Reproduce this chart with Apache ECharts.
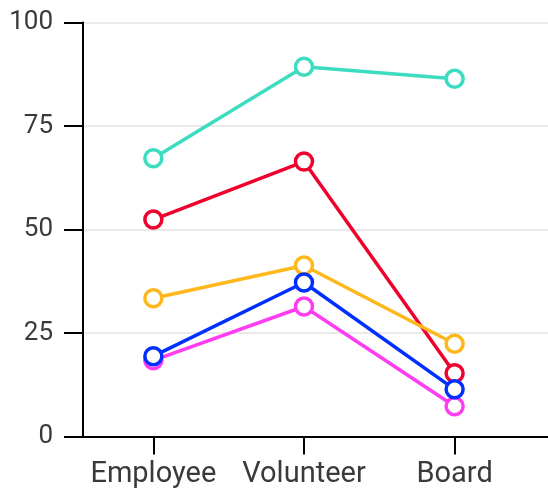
<!DOCTYPE html>
<html><head><meta charset="utf-8">
<script src="https://cdn.jsdelivr.net/npm/echarts@6/dist/echarts.min.js"></script>
<style>html,body{margin:0;padding:0;background:#fff}#c{width:548px;height:491px}</style>
</head><body><div id="c"></div>
<script>
const categories = ['Employee', 'Volunteer', 'Board'];
const yTicks = [0, 25, 50, 75, 100];
const teal = [67.2, 89.3, 86.4];
const red = [52.4, 66.4, 15.3];
const orange = [33.4, 41.3, 22.4];
const magenta = [18.4, 31.4, 7.3];
const blue = [19.4, 37.2, 11.4];

const seriesDefs = [
  {name: 'teal', data: teal, color: '#3cdcc1'},
  {name: 'red', data: red, color: '#f0002d'},
  {name: 'orange', data: orange, color: '#ffb81c'},
  {name: 'magenta', data: magenta, color: '#ff3cf2'},
  {name: 'blue', data: blue, color: '#0030ff'}
];
const idx = categories.map((c, i) => i);
const chart = echarts.init(document.getElementById('c'));
chart.setOption({
  animation: false,
  grid: {left: 83, right: 0, top: 22.5, bottom: 54.5},
  xAxis: {
    type: 'value', min: -0.467, max: 2.62,
    axisLine: {show: true, onZero: false, lineStyle: {color: '#000', width: 2}},
    axisTick: {show: true, customValues: idx, length: 18, lineStyle: {color: '#000', width: 2}},
    splitLine: {show: false},
    axisLabel: {customValues: idx, formatter: v => categories[Math.round(v)] || '', color: '#3a3a3a', fontFamily: 'Roboto', fontSize: 29, margin: 24}
  },
  yAxis: {
    type: 'value', min: 0, max: 100, interval: 25,
    axisLine: {show: true, onZero: false, lineStyle: {color: '#000', width: 2}},
    axisTick: {show: true, length: 19, lineStyle: {color: '#000', width: 2}},
    splitLine: {show: true, lineStyle: {color: '#e3e3e3', width: 1.5}},
    axisLabel: {color: '#3a3a3a', fontFamily: 'Roboto', fontSize: 26, margin: 30,
      formatter: v => yTicks.includes(v) ? String(v) : ''}
  },
  series: seriesDefs.map(s => ({
    type: 'line', name: s.name,
    data: s.data.map((v, i) => [idx[i], v]),
    symbol: 'circle', symbolSize: 17, showAllSymbol: true,
    lineStyle: {color: s.color, width: 3.5},
    itemStyle: {color: '#fff', borderColor: s.color, borderWidth: 3.5}
  }))
});
</script></body></html>
